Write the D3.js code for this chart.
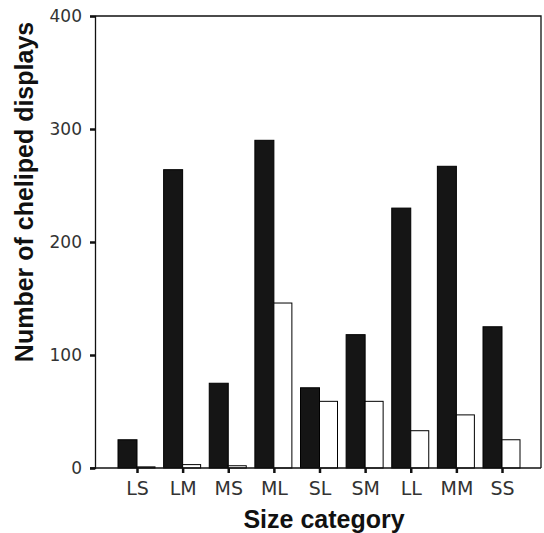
<!DOCTYPE html>
<head>
<script src="https://d3js.org/d3.v7.min.js"></script>
<style type="text/css">
	body { margin: 0; background: #fff; }
	svg { display: block; font-family: "Liberation Sans", Arial, sans-serif; }
</style>
</head>
<body>
<div id="chart"></div>
</body>
<script>

	// size categories along the x axis
	var categories = ["LS", "LM", "MS", "ML", "SL", "SM", "LL", "MM", "SS"];
	// dark bars (left of each tick)
	var blackValues = [25, 264, 75, 290, 71, 118, 230, 267, 125];
	// open bars (right of each tick)
	var whiteValues = [1, 3, 2, 146, 59, 59, 33, 47, 25];
	var yTicks = [0, 100, 200, 300, 400];

	var width = 544, height = 533;
	var mLeft = 95, mTop = 16, mRight = 541, mBottom = 468;

	var svg = d3.select("#chart").append("svg")
		.attr("width", width)
		.attr("height", height);

	var x = d3.scalePoint()
		.domain(categories)
		.range([137, 502]);

	var y = d3.scaleLinear()
		.domain([0, 400])
		.range([mBottom, mTop]);

	var barW = 19;

	// frame (top and right)
	svg.append("path")
		.attr("d", "M" + mLeft + "," + mTop + "H" + mRight + "V" + mBottom)
		.attr("fill", "none")
		.attr("stroke", "#111")
		.attr("stroke-width", 1.3);

	// bars
	svg.selectAll("rect.dark")
		.data(categories)
		.enter().append("rect")
		.attr("class", "dark")
		.attr("x", d => x(d) - barW)
		.attr("width", barW)
		.attr("y", (d, i) => y(blackValues[i]))
		.attr("height", (d, i) => y(0) - y(blackValues[i]))
		.attr("fill", "#151515")
		.attr("stroke", "#000")
		.attr("stroke-width", 1);

	svg.selectAll("rect.open")
		.data(categories)
		.enter().append("rect")
		.attr("class", "open")
		.attr("x", d => x(d))
		.attr("width", barW - 1)
		.attr("y", (d, i) => y(whiteValues[i]))
		.attr("height", (d, i) => y(0) - y(whiteValues[i]))
		.attr("fill", "#fff")
		.attr("stroke", "#000")
		.attr("stroke-width", 1);

	// y axis
	var yAxis = svg.append("g")
		.attr("transform", "translate(" + mLeft + ",0)")
		.call(d3.axisLeft(y).tickValues(yTicks).tickSize(5).tickPadding(8));
	yAxis.select(".domain").attr("stroke", "#111").attr("stroke-width", 1.3);
	yAxis.selectAll(".tick line").attr("stroke", "#111").attr("stroke-width", 2.5);
	yAxis.selectAll("text")
		.attr("font-size", 17)
		.attr("fill", "#333")
		.attr("font-family", "DejaVu Sans, sans-serif");

	// x axis
	var xAxis = svg.append("g")
		.attr("transform", "translate(0," + mBottom + ")")
		.call(d3.axisBottom(x).tickSize(5).tickPadding(9));
	xAxis.select(".domain")
		.attr("d", "M" + (mLeft - 5) + ",0H" + mRight)
		.attr("stroke", "#111")
		.attr("stroke-width", 1.3);
	xAxis.selectAll(".tick line").attr("stroke", "#111").attr("stroke-width", 2.5);
	xAxis.selectAll("text")
		.attr("font-size", 19)
		.attr("fill", "#333")
		.attr("font-family", "DejaVu Sans, sans-serif");

	// titles
	svg.append("text")
		.attr("transform", "translate(33,192) rotate(-90)")
		.attr("text-anchor", "middle")
		.attr("font-size", 25)
		.attr("font-weight", "bold")
		.attr("fill", "#111")
		.text("Number of cheliped displays");

	svg.append("text")
		.attr("x", 324)
		.attr("y", 528)
		.attr("text-anchor", "middle")
		.attr("font-size", 25)
		.attr("font-weight", "bold")
		.attr("fill", "#111")
		.text("Size category");

</script>
